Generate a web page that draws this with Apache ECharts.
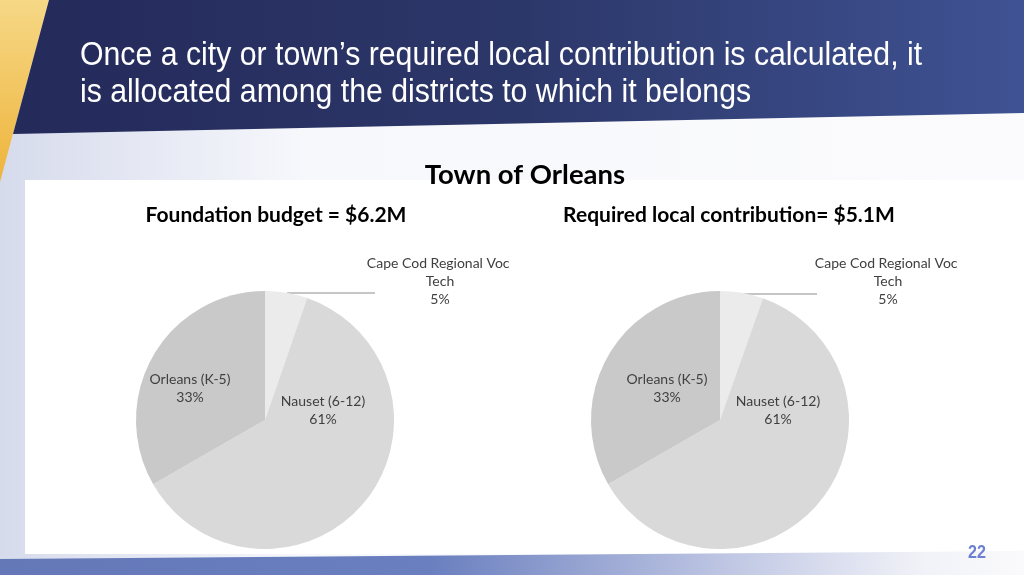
<!DOCTYPE html>
<html lang="en">
<head>
<meta charset="UTF-8">
<title>Town of Orleans</title>
<script src="https://cdn.jsdelivr.net/npm/echarts@6/dist/echarts.min.js"></script>
<style>
  * { margin: 0; padding: 0; }
  html, body { width: 1024px; height: 575px; overflow: hidden; background: #fff; }
  #chart { width: 1024px; height: 575px; }
</style>
</head>
<body>
<div id="chart"></div>
<script>
// districts, in the order the slices run clockwise from 12 o'clock
var districts = ['Cape Cod Regional Voc Tech', 'Nauset (6-12)', 'Orleans (K-5)'];
// shares in percent
var foundationShare = [5.3, 61.4, 33.3];
var contributionShare = [5.4, 61.3, 33.3];
var pieTitles = ['Foundation budget = $6.2M', 'Required local contribution= $5.1M'];
var sliceColors = ['#ebebeb', '#d9d9d9', '#c9c9c9'];

var chart = echarts.init(document.getElementById('chart'));

function toData(values) {
  return values.map(function (v, i) {
    var item = { name: districts[i], value: v, itemStyle: { color: sliceColors[i] } };
    if (i === 0) {
      item.label = { position: 'outside', width: 160, overflow: 'break' };
      item.labelLine = { show: true, lineStyle: { color: '#8c8c8c', width: 1 } };
    } else {
      item.label = { position: 'inside' };
      item.labelLine = { show: false };
    }
    return item;
  });
}

// where Excel put each label, relative to the pie centre
function placeLabels(cx, cy, spots, line) {
  return function (p) {
    var s = spots[p.dataIndex];
    var out = { x: cx + s[0], y: cy + s[1], align: 'center', verticalAlign: 'middle' };
    if (p.dataIndex === 0) {
      out.labelLinePoints = [
        [cx + line[0], cy + line[2]],
        [cx + line[1], cy + line[2]],
        [cx + line[1], cy + line[2]]
      ];
    }
    return out;
  };
}

function pieSeries(cx, values, spots, line) {
  return {
    type: 'pie',
    center: [cx, 420],
    radius: 129,
    startAngle: 90,
    clockwise: true,
    avoidLabelOverlap: false,
    silent: true,
    animation: false,
    label: {
      show: true,
      color: '#404040',
      fontFamily: 'Lato',
      fontSize: 14,
      lineHeight: 18,
      formatter: function (p) { return p.name + '\n' + Math.round(p.percent) + '%'; }
    },
    labelLayout: placeLabels(cx, 420, spots, line),
    data: toData(values)
  };
}

chart.setOption({
  animation: false,
  title: [
    { text: 'Town of Orleans', left: 520, top: 156, textAlign: 'center',
      textStyle: { fontFamily: 'Lato', fontWeight: 'bold', fontSize: 27.5, color: '#000' } },
    { text: pieTitles[0], left: 271, top: 200, textAlign: 'center',
      textStyle: { fontFamily: 'Lato', fontWeight: 'bold', fontSize: 21, color: '#000' } },
    { text: pieTitles[1], left: 724, top: 200, textAlign: 'center',
      textStyle: { fontFamily: 'Lato', fontWeight: 'bold', fontSize: 21, color: '#000' } }
  ],
  graphic: [
    // pale backdrop on the left
    { type: 'rect', z: -10, shape: { x: 0, y: 0, width: 1024, height: 575 },
      style: { fill: new echarts.graphic.LinearGradient(0, 0, 1, 0, [
        { offset: 0, color: '#d6dbec' }, { offset: 0.3, color: '#f7f8fc' }, { offset: 1, color: '#fbfbfd' }]) } },
    // white panel behind the pies
    { type: 'rect', z: -9, shape: { x: 25, y: 180, width: 999, height: 374 }, style: { fill: '#fff' } },
    // yellow sliver
    { type: 'polygon', z: -8, shape: { points: [[0, 0], [49, 0], [0, 182]] },
      style: { fill: new echarts.graphic.LinearGradient(0, 0, 0, 1, [
        { offset: 0, color: '#f6d886' }, { offset: 1, color: '#eeb43c' }]) } },
    // navy header
    { type: 'polygon', z: -7, shape: { points: [[49, 0], [1024, 0], [1024, 113], [13, 134]] },
      style: { fill: new echarts.graphic.LinearGradient(0, 0, 1, 0, [
        { offset: 0, color: '#242a5a' }, { offset: 0.5, color: '#2c3769' }, { offset: 1, color: '#3f5293' }]) } },
    // bottom strip
    { type: 'polygon', z: -6, shape: { points: [[0, 559], [1024, 551], [1024, 575], [0, 575]] },
      style: { fill: new echarts.graphic.LinearGradient(0, 0, 1, 0, [
        { offset: 0, color: '#6478b8' }, { offset: 0.42, color: '#6a7fbf' },
        { offset: 0.7, color: '#bcc4e2' }, { offset: 0.9, color: '#f1f2f8' }, { offset: 1, color: '#fafafc' }]) } },
    // slide heading, squeezed to look like Arial Narrow
    { type: 'text', z: -5, x: 80, y: 37, scaleX: 0.89, style: {
        text: 'Once a city or town\u2019s required local contribution is calculated, it\nis allocated among the districts to which it belongs',
        x: 0, y: 0, fill: '#fff', fontFamily: 'Liberation Sans', fontSize: 34, lineHeight: 37 } },
    { type: 'text', z: -5, x: 977, y: 553, scaleX: 0.85, style: {
        text: '22', x: 0, y: 0, align: 'center', verticalAlign: 'middle',
        fill: '#6d80d2', fontFamily: 'Liberation Sans', fontWeight: 'bold', fontSize: 19 } }
  ],
  series: [
    pieSeries(265, foundationShare,
      [[175, -139], [58, -10], [-75, -32]], [22, 110, -127]),
    pieSeries(720, contributionShare,
      [[168, -139], [58, -10], [-53, -32]], [22, 97, -126])
  ]
});
</script>
</body>
</html>
